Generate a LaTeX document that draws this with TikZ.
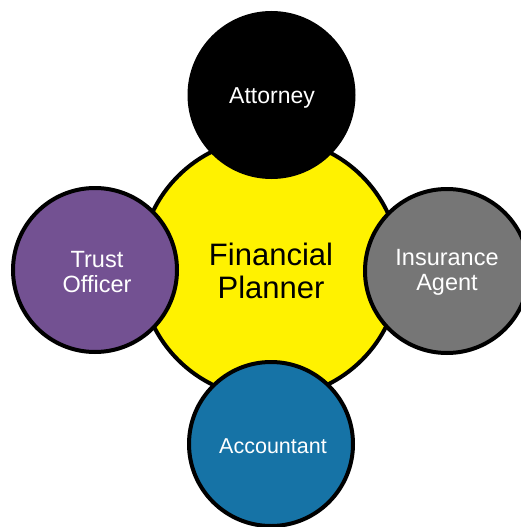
\documentclass[tikz,border=0pt]{standalone}
\usepackage{fontspec}
\setmainfont{Liberation Sans}
\definecolor{fpyellow}{HTML}{FFF200}
\definecolor{topurple}{HTML}{735192}
\definecolor{iagrey}{HTML}{767676}
\definecolor{acblue}{HTML}{1673A6}
\tikzset{
  bubble/.style={circle, draw=black, line width=4pt, minimum size=164pt, inner sep=0pt, text=white, align=center},
  hub/.style={circle, draw=black, line width=4pt, minimum size=260pt, inner sep=0pt, fill=fpyellow, text=black, align=center}
}
\begin{document}
\begin{tikzpicture}[x=1pt,y=1pt]
\useasboundingbox (0,0) rectangle (520,-527);
\node[hub] (fp) at (270,-268) {};
\node[font=\fontsize{31}{32.5}\selectfont, align=center] (fpt) at (271,-271) {Financial\\Planner};
\node[bubble, fill=black] (att) at (271.5,-95) {};
\node[font=\fontsize{23}{25}\selectfont, text=white] (attt) at (272,-97.5) {Attorney};
\node[bubble, fill=topurple] (to) at (95,-270) {};
\node[font=\fontsize{23.5}{25}\selectfont, text=white, align=center] (tot) at (97,-272) {Trust\\Officer};
\node[bubble, fill=iagrey] (ia) at (447,-271) {};
\node[font=\fontsize{23.5}{25}\selectfont, text=white, align=center] (iat) at (447,-272.5) {Insurance\\Agent};
\node[bubble, fill=acblue] (ac) at (271,-444) {};
\node[font=\fontsize{21.5}{24}\selectfont, text=white] (act) at (273,-446.5) {Accountant};
\end{tikzpicture}
\end{document}
